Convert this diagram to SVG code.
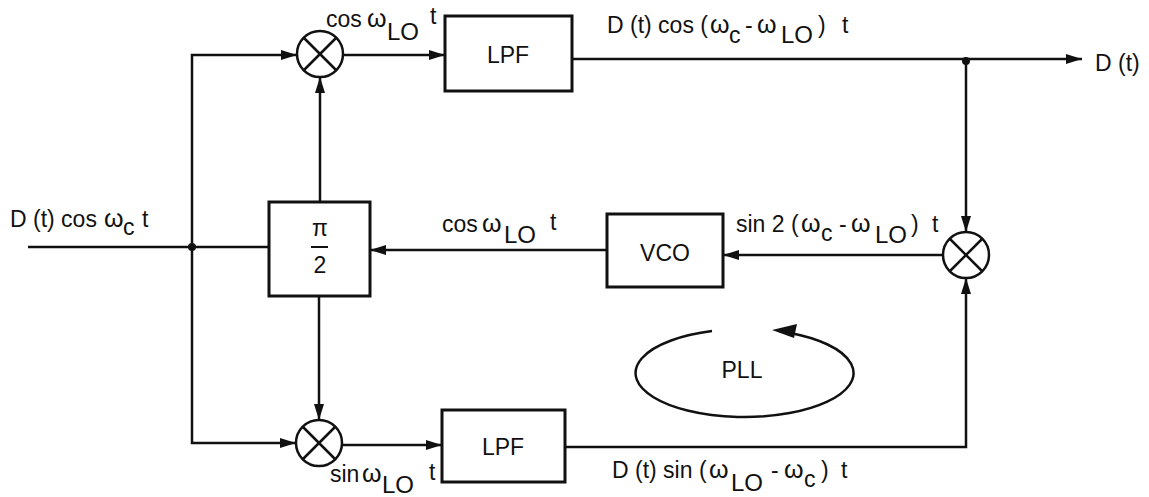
<svg xmlns="http://www.w3.org/2000/svg" width="1149" height="497" viewBox="0 0 1149 497">
<style>
text{font-family:"Liberation Sans",Arial,sans-serif;font-size:23px;fill:#111}
.g{font-size:25px}
.l{font-size:24px}
.c{text-anchor:middle}
.box{fill:#fff;stroke:#111;stroke-width:3}
.mix{fill:#fff;stroke:#111;stroke-width:2.5}
.x{stroke:#111;stroke-width:2.5}
.w{fill:none;stroke:#111;stroke-width:2.5}
</style>
<defs>
<marker id="ah" viewBox="0 0 16 10" refX="16" refY="5" markerWidth="16" markerHeight="10" markerUnits="userSpaceOnUse" orient="auto">
<path d="M0,0 L16,5 L0,10 Z" fill="#111"/>
</marker>
</defs>
<rect width="1149" height="497" fill="#fff"/>
<g id="connectors">
<path class="w" d="M192,247 V55 H297" marker-end="url(#ah)"/>
<path class="w" d="M343,55 H445" marker-end="url(#ah)"/>
<path class="w" d="M572,59 H1082" marker-end="url(#ah)"/>
<path class="w" d="M966,61 V232" marker-end="url(#ah)"/>
<path class="w" d="M28,247 H269"/>
<path class="w" d="M192,247 V443 H296" marker-end="url(#ah)"/>
<path class="w" d="M320,202 V77" marker-end="url(#ah)"/>
<path class="w" d="M319,296 V420" marker-end="url(#ah)"/>
<path class="w" d="M342,445 H442" marker-end="url(#ah)"/>
<path class="w" d="M565,447 H966 V278" marker-end="url(#ah)"/>
<path class="w" d="M943,255 H723" marker-end="url(#ah)"/>
<path class="w" d="M607,250 H370" marker-end="url(#ah)"/>
<circle cx="192" cy="247" r="4" fill="#111"/>
<circle cx="966" cy="61" r="4" fill="#111"/>
</g>
<g id="mixer-top">
<circle class="mix" cx="320" cy="54" r="23"/>
<path class="x" d="M304,38 L336,70 M336,38 L304,70"/>
</g>
<g id="mixer-bottom">
<circle class="mix" cx="319" cy="443" r="23"/>
<path class="x" d="M303,427 L335,459 M335,427 L303,459"/>
</g>
<g id="mixer-right">
<circle class="mix" cx="966" cy="255" r="23"/>
<path class="x" d="M950,239 L982,271 M982,239 L950,271"/>
</g>
<g id="lpf-top">
<rect class="box" x="445" y="16" width="127" height="75"/>
<text class="c" x="508" y="63">LPF</text>
</g>
<g id="lpf-bottom">
<rect class="box" x="442" y="410" width="123" height="72"/>
<text class="c" x="503" y="455">LPF</text>
</g>
<g id="phase">
<rect class="box" x="269" y="202" width="101" height="94"/>
<text class="c" x="320" y="236">π</text>
<line x1="311" y1="247" x2="328" y2="247" stroke="#111" stroke-width="2"/>
<text class="c" x="320" y="273">2</text>
</g>
<g id="vco">
<rect class="box" x="607" y="214" width="116" height="73"/>
<text class="c" x="665" y="261">VCO</text>
</g>
<g id="pll">
<path class="w" d="M790,333 A109,44 0 1 1 712,331"/>
<path d="M772,330 L797,324 L794,338 Z" fill="#111"/>
<text class="c" x="742" y="378">PLL</text>
</g>
<g id="labels">
<text><tspan x="326" y="27">cos</tspan><tspan class="g" x="367" y="27">ω</tspan><tspan class="l" x="387" y="40">LO</tspan><tspan x="430" y="24">t</tspan></text>
<text><tspan x="607" y="33">D (t) cos (</tspan><tspan class="g" x="710" y="33">ω</tspan><tspan x="729" y="43">c</tspan><tspan x="745" y="33">-</tspan><tspan class="g" x="757" y="33">ω</tspan><tspan class="l" x="781" y="43">LO</tspan><tspan x="818" y="33">)</tspan><tspan x="842" y="33">t</tspan></text>
<text x="1095" y="71">D (t)</text>
<text><tspan x="10" y="227">D (t) cos</tspan><tspan class="g" x="104" y="227">ω</tspan><tspan x="123" y="235">c</tspan><tspan x="142" y="227">t</tspan></text>
<text><tspan x="442" y="232">cos</tspan><tspan class="g" x="482" y="232">ω</tspan><tspan class="l" x="504" y="243">LO</tspan><tspan x="550" y="230">t</tspan></text>
<text><tspan x="736" y="232">sin 2 (</tspan><tspan class="g" x="801" y="232">ω</tspan><tspan x="821" y="241">c</tspan><tspan x="839" y="232">-</tspan><tspan class="g" x="851" y="232">ω</tspan><tspan class="l" x="875" y="243">LO</tspan><tspan x="911" y="232">)</tspan><tspan x="932" y="232">t</tspan></text>
<text><tspan x="330" y="482">sin</tspan><tspan class="g" x="362" y="482">ω</tspan><tspan class="l" x="382" y="493">LO</tspan><tspan x="429" y="480">t</tspan></text>
<text><tspan x="612" y="478">D (t) sin (</tspan><tspan class="g" x="709" y="478">ω</tspan><tspan class="l" x="731" y="491">LO</tspan><tspan x="771" y="478">-</tspan><tspan class="g" x="784" y="478">ω</tspan><tspan x="804" y="487">c</tspan><tspan x="821" y="478">)</tspan><tspan x="841" y="478">t</tspan></text>
</g>
</svg>
